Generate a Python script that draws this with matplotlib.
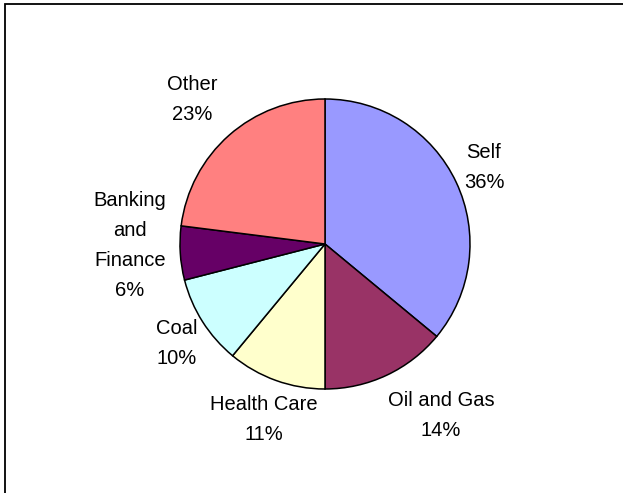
import matplotlib
matplotlib.use("Agg")
import matplotlib.pyplot as plt
from matplotlib.patches import Rectangle

categories = ["Self", "Oil and Gas", "Health Care", "Coal", "Banking and Finance", "Other"]
shares = [36, 14, 11, 10, 6, 23]
label_lines = [["Self"], ["Oil and Gas"], ["Health Care"], ["Coal"], ["Banking", "and", "Finance"], ["Other"]]
colors = ["#9999FF", "#993366", "#FFFFCC", "#CCFFFF", "#660066", "#FF8080"]

# layout (pixel coordinates of label block centres, top-down)
label_pos = [(484, 168), (441, 415), (264, 419), (177, 344), (130, 246), (192, 100)]

W, H = 623, 493
fig = plt.figure(figsize=(W / 100, H / 100), dpi=100)
ax = fig.add_axes([0, 0, 1, 1])

# outer chart border (clipped at right/bottom like the reference)
ax.add_patch(Rectangle((5, -20), 700, H - 4 + 20, fill=False, edgecolor="black", lw=1.3))

cx, cy, r = 325, H - 244, 145
ax.pie(shares, colors=colors, startangle=90, counterclock=False, center=(cx, cy), radius=r,
       wedgeprops=dict(edgecolor="black", linewidth=1.1), frame=True)
ax.set_xlim(0, W)
ax.set_ylim(0, H)
ax.set_aspect("equal")
ax.axis("off")

line_h = 30
for lines, val, (px, py) in zip(label_lines, shares, label_pos):
    all_lines = lines + [f"{val}%"]
    n = len(all_lines)
    top = py - (n - 1) * line_h / 2
    for i, t in enumerate(all_lines):
        ax.text(px, H - (top + i * line_h), t, ha="center", va="center",
                fontsize=14.5, family=["Liberation Sans", "DejaVu Sans"], color="black")

fig.savefig("out.png", dpi=100)
